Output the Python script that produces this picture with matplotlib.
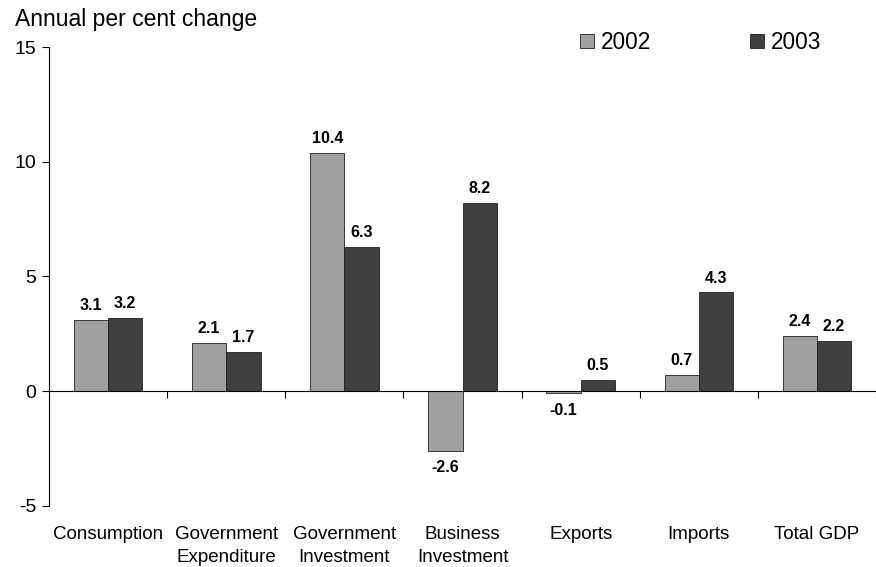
import numpy as np
import matplotlib
matplotlib.use("Agg")
import matplotlib.pyplot as plt
from matplotlib.lines import Line2D

plt.rcParams['font.family'] = ['Liberation Sans', 'DejaVu Sans']
plt.rcParams['axes.unicode_minus'] = False

# data
categories = ['Consumption', 'Government\nExpenditure', 'Government\nInvestment',
              'Business\nInvestment', 'Exports', 'Imports', 'Total GDP']
vals_2002 = [3.1, 2.1, 10.4, -2.6, -0.1, 0.7, 2.4]
vals_2003 = [3.2, 1.7, 6.3, 8.2, 0.5, 4.3, 2.2]

c2002 = '#a0a0a0'
c2003 = '#404040'

fig = plt.figure(figsize=(8.76, 5.67), dpi=100)
ax = fig.add_axes([0.056, 0.108, 0.944, 0.809])

x = np.arange(len(categories))
w = 0.29
b1 = ax.bar(x - w / 2, vals_2002, w, color=c2002, edgecolor='#202020', linewidth=0.6)
b2 = ax.bar(x + w / 2, vals_2003, w, color=c2003, edgecolor='#202020', linewidth=0.6)

# value labels
for bars, vals in ((b1, vals_2002), (b2, vals_2003)):
    for rect, v in zip(bars, vals):
        cx = rect.get_x() + rect.get_width() / 2
        if v >= 0:
            ax.annotate(f'{v:.1f}', (cx, v), xytext=(0, 5), textcoords='offset points',
                        ha='center', va='bottom', fontsize=11.5, fontweight='bold')
        else:
            ax.annotate(f'{v:.1f}', (cx, v), xytext=(0, -7), textcoords='offset points',
                        ha='center', va='top', fontsize=11.5, fontweight='bold')

ax.set_ylim(-5, 15)
ax.set_yticks([-5, 0, 5, 10, 15])
ax.set_xlim(-0.5, 6.42)

ax.spines['top'].set_visible(False)
ax.spines['right'].set_visible(False)
ax.spines['bottom'].set_position(('data', 0))
ax.spines['left'].set_linewidth(0.8)
ax.spines['bottom'].set_linewidth(0.8)

ax.set_xticks(x)
ax.set_xticklabels(categories, fontsize=13.5, linespacing=1.5)
ax.tick_params(axis='x', which='major', length=0, pad=97)
ax.set_xticks(np.arange(len(categories)) + 0.5, minor=True)
ax.tick_params(axis='x', which='minor', length=5, direction='out', width=0.8)
ax.tick_params(axis='y', labelsize=14, length=5, width=0.8, pad=4)

fig.text(0.017, 0.986, 'Annual per cent change', fontsize=16.5, ha='left', va='top')

handles = [Line2D([], [], marker='s', linestyle='none', markersize=9.5,
                  markerfacecolor=c2002, markeredgecolor='#202020', markeredgewidth=0.6),
           Line2D([], [], marker='s', linestyle='none', markersize=9.5,
                  markerfacecolor=c2003, markeredgecolor='#202020', markeredgewidth=0.6)]
fig.legend(handles, ['2002', '2003'], loc='upper left', bbox_to_anchor=(0.657, 0.953),
           ncol=2, frameon=False, fontsize=16.3, handletextpad=0.31, columnspacing=4.4,
           handlelength=0.6, borderpad=0.2, borderaxespad=0)

fig.savefig('out.png', dpi=100)
